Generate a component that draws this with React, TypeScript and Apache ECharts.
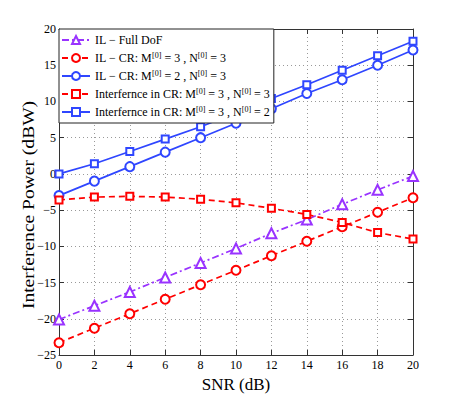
import React, { useEffect, useRef } from "react";
import * as echarts from "echarts";

const snr = [0, 2, 4, 6, 8, 10, 12, 14, 16, 18, 20];
const ilFullDof = [-20.1, -18.2, -16.3, -14.3, -12.3, -10.3, -8.2, -6.3, -4.2, -2.2, -0.3];
const ilCrM3N3 = [-23.3, -21.3, -19.3, -17.3, -15.3, -13.3, -11.3, -9.3, -7.3, -5.3, -3.3];
const ilCrM2N3 = [-3.0, -1.0, 1.0, 3.0, 5.0, 7.0, 9.0, 11.1, 13.0, 15.0, 17.1];
const intCrM3N3 = [-3.6, -3.2, -3.1, -3.2, -3.5, -4.0, -4.75, -5.6, -6.7, -8.1, -9.0];
const intCrM3N2 = [0.0, 1.4, 3.1, 4.8, 6.5, 8.4, 10.4, 12.3, 14.3, 16.3, 18.3];

const seriesNames = [
  "IL − Full DoF",
  "IL − CR: M[0] = 3 , N[0] = 3",
  "IL − CR: M[0] = 2 , N[0] = 3",
  "Interfernce in CR: M[0] = 3 , N[0] = 3",
  "Interfernce in CR: M[0] = 3 , N[0] = 2",
];

const FONT = "Liberation Serif";
const PURPLE = "#9933ff";
const RED = "#ff0000";
const BLUE = "#2f46ff";

const minus = (v: number) => String(v).replace("-", "−");

export default function App() {
  const ref = useRef<HTMLDivElement>(null);
  useEffect(() => {
    if (!ref.current) return;
    const chart = echarts.init(ref.current, null, { renderer: "svg" });
    const pair = (xs: number[], ys: number[]) => xs.map((x, i) => [x, ys[i]]);
    const mk = (
      name: string,
      data: number[],
      color: string,
      symbol: string,
      symbolSize: number,
      type: any
    ) => ({
      name,
      type: "line",
      data: pair(snr, data),
      symbol,
      symbolSize,
      showAllSymbol: true,
      lineStyle: { color, width: 1.7, type },
      itemStyle: { color, borderColor: color, borderWidth: 1.5 },
    });
    const dashDot = [7, 3, 2, 3];
    const dashed = [6, 4];
    const axisCommon = {
      axisLine: { show: true, onZero: false, lineStyle: { color: "#333", width: 1 } },
      axisTick: { show: true, inside: true, length: 5, lineStyle: { color: "#333" } },
    };
    const option: any = {
      animation: false,
      backgroundColor: "#fff",
      grid: { left: 59, top: 29, width: 354, height: 326, containLabel: false },
      xAxis: [
        {
          type: "value",
          min: 0,
          max: 20,
          interval: 2,
          position: "bottom",
          ...axisCommon,
          axisLabel: { fontFamily: FONT, fontSize: 12, color: "#000", margin: 4, formatter: minus },
          splitLine: { show: true, lineStyle: { type: [1, 3], color: "#999" } },
          name: "SNR (dB)",
          nameLocation: "middle",
          nameGap: 15,
          nameTextStyle: { fontFamily: FONT, fontSize: 17, color: "#000" },
        },
        {
          type: "value",
          min: 0,
          max: 20,
          interval: 2,
          position: "top",
          ...axisCommon,
          axisLabel: { show: false },
          splitLine: { show: false },
        },
      ],
      yAxis: [
        {
          type: "value",
          min: -25,
          max: 20,
          interval: 5,
          position: "left",
          ...axisCommon,
          axisLabel: { fontFamily: FONT, fontSize: 12, color: "#000", margin: 3, formatter: minus },
          splitLine: { show: true, lineStyle: { type: [1, 3], color: "#999" } },
        },
        {
          type: "value",
          min: -25,
          max: 20,
          interval: 5,
          position: "right",
          ...axisCommon,
          axisLabel: { show: false },
          splitLine: { show: false },
        },
      ],
      legend: {
        orient: "vertical",
        left: 59,
        top: 29,
        backgroundColor: "#fff",
        borderColor: "#222",
        borderWidth: 1,
        borderRadius: 0,
        padding: [4, 4, 4, 2],
        itemWidth: 28,
        itemHeight: 10,
        itemGap: 4,
        data: seriesNames,
        formatter: (name: string) => name.replace(/\[0\]/g, "{sup|[0]}"),
        textStyle: {
          fontFamily: FONT,
          fontSize: 12,
          color: "#000",
          lineHeight: 14,
          rich: {
            sup: { fontFamily: FONT, fontSize: 8, lineHeight: 8, verticalAlign: "top", color: "#000" },
          },
        },
      },
      graphic: [
        {
          type: "text",
          x: 28,
          y: 205,
          rotation: Math.PI / 2,
          scaleX: 1.15,
          style: {
            text: "Interference Power (dBW)",
            font: `17px "${FONT}"`,
            fill: "#000",
            textAlign: "center",
            textVerticalAlign: "middle",
          },
        },
      ],
      series: [
        mk(seriesNames[0], ilFullDof, PURPLE, "emptyTriangle", 10, dashDot),
        mk(seriesNames[1], ilCrM3N3, RED, "emptyCircle", 9, dashed),
        mk(seriesNames[2], ilCrM2N3, BLUE, "emptyCircle", 9, "solid"),
        mk(seriesNames[3], intCrM3N3, RED, "emptyRect", 7, dashed),
        mk(seriesNames[4], intCrM3N2, BLUE, "emptyRect", 7, "solid"),
      ],
    };
    chart.setOption(option);
    return () => chart.dispose();
  }, []);
  return (
    <div
      ref={ref}
      style={{ position: "fixed", left: 0, top: 0, width: 457, height: 399, background: "#fff" }}
    />
  );
}
